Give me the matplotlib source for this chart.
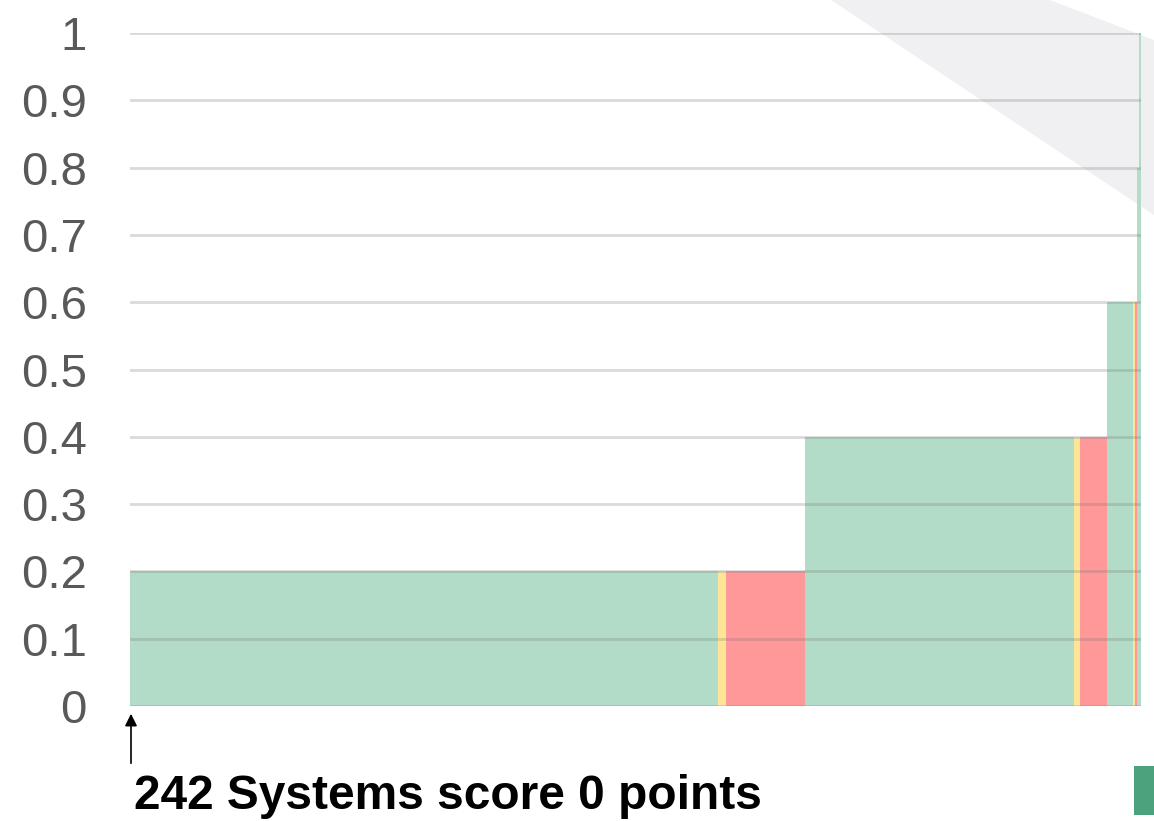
import numpy as np
import matplotlib
matplotlib.use("Agg")
import matplotlib.pyplot as plt
from matplotlib.patches import Polygon, Rectangle

# groups of systems, left to right: (score, colour key, number of systems)
group_scores = [0.2, 0.2, 0.2, 0.4, 0.4, 0.4, 0.6, 0.6, 0.6, 0.8, 1.0]
group_status = ["green", "yellow", "red", "green", "yellow", "red",
                "green", "yellow", "red", "green", "green"]
group_counts = [298, 4, 40, 136, 3, 14, 13, 1, 1, 1, 1]
y_ticks = [0, 0.1, 0.2, 0.3, 0.4, 0.5, 0.6, 0.7, 0.8, 0.9, 1.0]
y_ticklabels = ["0", "0.1", "0.2", "0.3", "0.4", "0.5", "0.6", "0.7", "0.8", "0.9", "1"]
note = "242 Systems score 0 points"

palette = {"green": "#b2dcc7", "yellow": "#fee596", "red": "#ff9898"}

scores = np.repeat(group_scores, group_counts)
colours = [palette[s] for s, n in zip(group_status, group_counts) for _ in range(n)]
x = np.arange(len(scores))

W, H = 1154, 821
fig = plt.figure(figsize=(W / 100, H / 100), dpi=100)

# grey diagonal band of the slide background
band = Polygon([(831 / W, 1), (1050 / W, 1), (1, 1 - 40 / H), (1, 1 - 215 / H)],
               closed=True, transform=fig.transFigure, facecolor="#f0f0f2",
               edgecolor="none", zorder=-5)
fig.patches.append(band)

ax = fig.add_axes([130 / W, (H - 706) / H, 1011 / W, 673 / H])
ax.set_zorder(1)
ax.patch.set_alpha(0)
ax.bar(x, scores, width=1.0, align="edge", color=colours,
       edgecolor="none", linewidth=0, zorder=2)

ax.set_xlim(0, len(scores))
ax.set_ylim(0, 1)
ax.set_yticks(y_ticks)
ax.set_yticklabels(y_ticklabels, fontsize=34, color="#595959",
                   family="Liberation Sans")
ax.set_xticks([])
ax.tick_params(axis="y", length=0, pad=31)
for s in ax.spines.values():
    s.set_visible(False)
for t in y_ticks:
    ax.axhline(t, color=(0.45, 0.45, 0.45, 0.26), lw=2.0, zorder=3)

# arrow + caption
ax.annotate("", xy=(131 / W, (H - 711) / H), xytext=(131 / W, (H - 766) / H),
            xycoords="figure fraction", textcoords="figure fraction",
            arrowprops=dict(arrowstyle="-|>", color="black", lw=1.2,
                            mutation_scale=18))
fig.text(134 / W, (H - 809) / H, note, fontsize=34.5, fontweight="bold",
         family="Liberation Sans", color="black", va="baseline", ha="left")

fig.patches.append(Rectangle((1134 / W, (H - 815) / H), 20 / W, 49 / H,
                             transform=fig.transFigure, facecolor="#4aa37c",
                             edgecolor="none"))

fig.savefig("out.png", dpi=100)
